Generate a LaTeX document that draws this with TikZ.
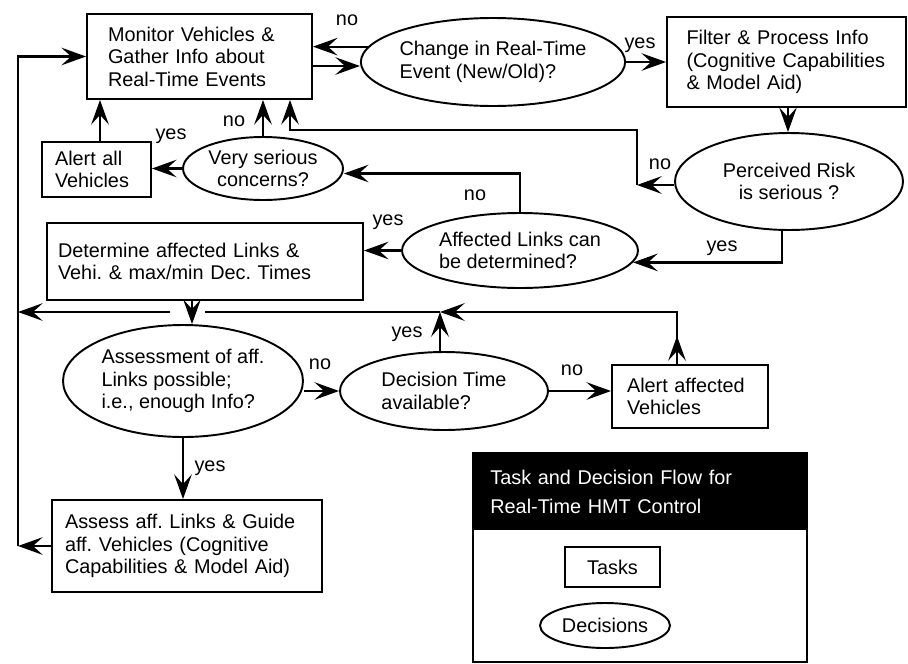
\documentclass[tikz,border=0pt]{standalone}
\usepackage{fontspec}
\setmainfont{Liberation Sans}
\usetikzlibrary{shapes.geometric, arrows.meta}
\tikzset{task node/.style={rectangle,draw,line width=1.1pt,align=left,inner ysep=2pt},
  decision node/.style={ellipse,draw,line width=1.1pt,inner sep=0pt,align=left},
  flow line/.style={line width=1.3pt,-{Stealth[length=14pt,width=10pt,inset=5.5pt]}},
  answer/.style={inner sep=0pt}}
\frenchspacing

\begin{document}
\begin{tikzpicture}[x=0.02cm, y=-0.02cm, font=\fontsize{11.3}{12.8}\selectfont]
            \useasboundingbox (0,0) rectangle (908,663);

            % tasks
            \node[task node, text width=3.66cm, inner xsep=0.42cm, minimum height=1.7cm] (monitor) at (199.5,56.5) {Monitor Vehicles \&\\Gather Info about\\Real-Time Events};
            \node[task node, text width=4cm, inner xsep=0.39cm, minimum height=1.8cm] (filter) at (786.5,62) {Filter \& Process Info\\(Cognitive Capabilities\\\& Model Aid)};
            \node[task node, text width=1.66cm, inner xsep=0.26cm, minimum height=1.1cm] (alertall) at (96.5,169.5) {Alert all\\Vehicles};
            \node[task node, text width=5.88cm, inner xsep=0.22cm, minimum height=1.54cm] (determine) at (205,261.5) {Determine affected Links \&\\Vehi. \& max/min Dec. Times};
            \node[task node, text width=2.52cm, inner xsep=0.3cm, minimum height=1.26cm] (alertaff) at (690,396.5) {Alert affected\\Vehicles};
            \node[task node, text width=4.88cm, inner xsep=0.26cm, minimum height=1.84cm] (assess) at (187,546) {Assess aff. Links \& Guide\\aff. Vehicles (Cognitive\\Capabilities \& Model Aid)};

            % decisions
            \node[decision node, minimum width=5.14cm, minimum height=1.76cm] (change) at (493,62) {Change in Real-Time\\Event (New/Old)?};
            \node[decision node, align=center, minimum width=4.56cm, minimum height=1.94cm] (risk) at (789,181.5) {Perceived Risk\\is serious ?};
            \node[decision node, align=center, minimum width=3.2cm, minimum height=1.26cm] (serious) at (263,168.5) {Very serious\\concerns?};
            \node[decision node, minimum width=4.72cm, minimum height=1.5cm] (affected) at (520,250.5) {Affected Links can\\be determined?};
            \node[decision node, minimum width=4.8cm, minimum height=2.24cm] (assessment) at (183,381) {Assessment of aff.\\Links possible;\\i.e., enough Info?};
            \node[decision node, minimum width=4.16cm, minimum height=1.56cm] (dectime) at (444,391) {Decision Time\\available?};

            % turning points
            \coordinate (rail) at (18,0);
            \coordinate (riskturn) at (637,185);
            \coordinate (riskup) at (290,130);
            \coordinate (merge) at (440,312);
            \coordinate (bridgeR) at (205,312);
            \coordinate (bridgeL) at (170,312);

            % connectors
            \draw[flow line] (change.173) -- (monitor.east |- change.173);
            \draw[flow line] ([yshift=-0.19cm]monitor.east) -- ([yshift=-0.19cm]monitor.east -| change.west);
            \draw[flow line] (change.east) -- (change.east -| filter.west);
            \draw[flow line] ([xshift=0.03cm]filter.south) -- ([xshift=0.03cm]filter.south |- risk.north);
            \draw[flow line] (risk.west |- riskturn) -- (riskturn);
            \draw[flow line] (riskturn) |- (riskup) -- (riskup |- monitor.south);
            \draw[flow line] ([xshift=-0.14cm]risk.south) |- (affected.-6);
            \draw[flow line] (affected.north) |- ([yshift=-0.1cm]serious.east);
            \draw[flow line] (serious.north) -- (serious.north |- monitor.south);
            \draw[flow line] (serious.west) -- (serious.west -| alertall.east);
            \draw[flow line] ([xshift=0.07cm]alertall.north) -- ([xshift=0.07cm]alertall.north |- monitor.south);
            \draw[flow line] (affected.west) -- (affected.west -| determine.east);
            \draw[flow line] ([xshift=-0.26cm]determine.south) -- ([xshift=-0.26cm]determine.south |- assessment.north);
            \draw[flow line] (assessment.east |- dectime.west) -- (dectime.west);
            \draw[flow line] (dectime.east) -- (dectime.east -| alertaff.west);
            \draw[flow line] (merge |- dectime.north) -- (merge);
            \draw[flow line] ([xshift=-0.26cm]alertaff.north) -- ++(0,-28);
            \draw[flow line] ([xshift=-0.26cm]alertaff.north) |- (merge);
            \draw[line width=1.3pt] (merge) -- (bridgeR);
            \draw[flow line] (bridgeL) -- (bridgeL -| rail);
            \draw[flow line] (assessment.south) -- (assessment.south |- assess.north);
            \draw[flow line] (assess.west) -- (assess.west -| rail);
            \draw[flow line] (assess.west -| rail) |- (monitor.west);

            % answers
            \node[answer] (no1) at (347,20) {no};
            \node[answer] (yes1) at (640,45) {yes};
            \node[answer] (no2) at (660,164) {no};
            \node[answer] (no3) at (475,195) {no};
            \node[answer] (no4) at (234,121) {no};
            \node[answer] (yes2) at (171,136) {yes};
            \node[answer] (yes3) at (722,248) {yes};
            \node[answer] (yes4) at (388,222) {yes};
            \node[answer] (yes5) at (407,334) {yes};
            \node[answer] (no5) at (320,364) {no};
            \node[answer] (no6) at (572,370) {no};
            \node[answer] (yes6) at (210,468) {yes};

            % legend
            \draw[line width=0.7pt] (473,453) rectangle (807,662);
            \draw[line width=1.4pt] (807,453) -- (807,663);
            \node[fill=black, text=white, anchor=north west, text width=6cm, inner xsep=0.34cm, minimum height=1.54cm, align=left, font=\fontsize{11.3}{16.4}\selectfont] (legendhead) at (473,453) {Task and Decision Flow for\\Real-Time HMT Control};
            \node[task node, align=center, minimum width=1.9cm, minimum height=0.8cm] (tasks) at (612.5,567) {Tasks};
            \node[decision node, align=center, minimum width=2.6cm, minimum height=0.9cm] (decisions) at (605,625.5) {Decisions};
        \end{tikzpicture}
\end{document}
